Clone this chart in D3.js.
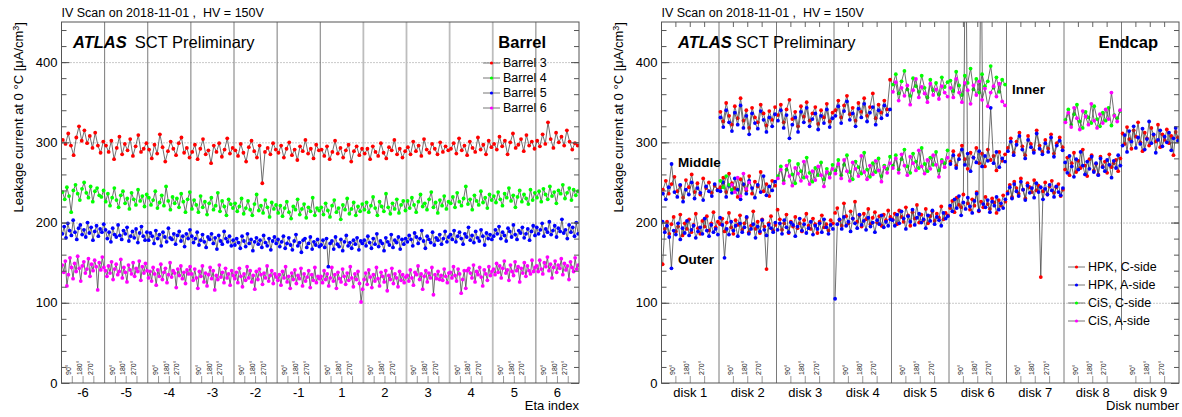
<!DOCTYPE html>
<html>
<head>
<meta charset="utf-8">
<script src="https://cdn.jsdelivr.net/npm/d3@7"></script>
<style>
  body { margin: 0; background: #fff; }
  svg { font-family: "Liberation Sans", Arial, Helvetica, sans-serif; }
  text { white-space: pre; }
</style>
</head>
<body>
<svg id="chart" width="1182" height="417"></svg>
<script>
// ---------------- categories and tick labels ----------------
const etaLabels = ["-6", "-5", "-4", "-3", "-2", "-1", "1", "2", "3", "4", "5", "6"];
const diskLabels = ["disk 1", "disk 2", "disk 3", "disk 4", "disk 5", "disk 6", "disk 7", "disk 8", "disk 9"];
const phiTicks = [90, 180, 270];
const phiTickLabels = ["90°", "180°", "270°"];
const yMajorTicks = [0, 100, 200, 300, 400];
const titleText = "IV Scan on 2018-11-01 ,  HV = 150V";

// ---------------- barrel: one row of modules per eta index ----------------
const barrelNames = ["Barrel 3", "Barrel 4", "Barrel 5", "Barrel 6"];
const barrel3 = [
  [303, 298, 311, 296, 284, 306, 320, 302, 315, 299, 308, 293, 312, 296, 287, 301],
  [296, 288, 302, 279, 293, 307, 285, 298, 290, 304, 283, 295, 309, 288, 292, 299],
  [291, 280, 297, 286, 310, 294, 276, 289, 301, 292, 284, 299, 306, 287, 293, 281],
  [288, 297, 279, 292, 304, 285, 290, 274, 296, 288, 299, 282, 291, 305, 286, 293],
  [290, 283, 298, 287, 276, 294, 302, 289, 281, 296, 249, 288, 293, 285, 299, 291],
  [287, 296, 281, 292, 300, 284, 291, 278, 295, 289, 303, 286, 292, 280, 297, 290],
  [291, 283, 295, 279, 288, 302, 286, 293, 281, 290, 297, 276, 289, 295, 284, 292],
  [286, 292, 279, 295, 288, 283, 299, 287, 280, 294, 290, 303, 285, 292, 281, 289],
  [294, 285, 301, 289, 296, 283, 304, 291, 287, 298, 292, 285, 300, 288, 295, 290],
  [292, 299, 286, 305, 290, 296, 284, 301, 293, 288, 306, 291, 297, 285, 302, 294],
  [298, 291, 307, 295, 302, 285, 300, 311, 293, 297, 304, 289, 309, 296, 301, 292],
  [302, 295, 310, 298, 325, 304, 293, 312, 300, 307, 296, 315, 301, 291, 299, 296]
];
const barrel4 = [
  [238, 229, 244, 233, 213, 240, 247, 236, 228, 242, 250, 237, 231, 245, 226, 239, 243, 234, 232, 240],
  [226, 236, 221, 231, 243, 228, 219, 234, 239, 224, 230, 217, 237, 229, 222, 241, 227, 233, 220, 235],
  [231, 222, 228, 239, 218, 225, 234, 221, 245, 227, 216, 232, 224, 230, 219, 236, 226, 213, 229, 238],
  [217, 228, 222, 213, 233, 219, 226, 210, 224, 231, 216, 221, 237, 214, 227, 220, 209, 229, 223, 218],
  [224, 214, 220, 230, 211, 218, 227, 216, 209, 223, 235, 215, 221, 212, 228, 219, 207, 225, 217, 222],
  [212, 221, 208, 218, 226, 213, 205, 220, 216, 229, 210, 217, 223, 206, 219, 214, 231, 209, 218, 215],
  [219, 210, 224, 215, 207, 221, 228, 213, 218, 204, 222, 216, 230, 211, 217, 225, 209, 220, 214, 223],
  [216, 225, 213, 221, 232, 218, 209, 226, 220, 214, 236, 219, 211, 224, 217, 229, 212, 222, 227, 215],
  [227, 218, 231, 222, 213, 226, 235, 220, 224, 216, 229, 238, 219, 225, 212, 228, 221, 233, 217, 226],
  [224, 232, 219, 237, 226, 221, 230, 245, 223, 229, 216, 234, 227, 222, 239, 225, 231, 218, 235, 228],
  [233, 225, 238, 229, 221, 236, 231, 243, 227, 234, 219, 232, 240, 226, 235, 230, 223, 241, 228, 237],
  [231, 239, 226, 242, 235, 229, 245, 233, 238, 224, 240, 236, 247, 230, 237, 243, 228, 241, 234, 239]
];
const barrel5 = [
  [186, 195, 181, 199, 190, 184, 203, 188, 179, 193, 197, 185, 191, 182, 200, 187, 194, 178, 189, 196, 183, 192, 188, 198],
  [191, 180, 188, 176, 193, 185, 182, 197, 184, 179, 190, 186, 194, 177, 183, 189, 181, 192, 175, 187, 195, 183, 178, 188],
  [178, 187, 183, 174, 190, 180, 185, 171, 188, 182, 176, 193, 181, 179, 186, 173, 184, 189, 177, 183, 170, 186, 180, 191],
  [183, 175, 180, 188, 172, 178, 185, 176, 169, 182, 179, 186, 174, 181, 167, 184, 177, 173, 189, 180, 176, 183, 171, 178],
  [172, 180, 175, 168, 183, 177, 170, 186, 174, 179, 165, 176, 181, 173, 178, 169, 184, 175, 171, 180, 166, 177, 182, 174],
  [179, 170, 176, 183, 168, 174, 181, 172, 166, 177, 185, 171, 175, 163, 178, 180, 169, 174, 182, 167, 176, 172, 179, 170],
  [172, 178, 169, 180, 145, 174, 177, 167, 182, 173, 170, 179, 165, 176, 184, 171, 175, 168, 178, 173, 181, 166, 177, 174],
  [178, 171, 183, 175, 168, 180, 173, 186, 170, 177, 174, 165, 181, 176, 172, 185, 169, 178, 175, 182, 167, 179, 173, 180],
  [176, 184, 179, 171, 187, 182, 174, 180, 190, 177, 168, 183, 179, 175, 188, 172, 181, 178, 185, 173, 180, 189, 176, 182],
  [185, 179, 190, 176, 183, 188, 180, 173, 186, 182, 194, 178, 184, 175, 189, 181, 177, 191, 183, 172, 187, 180, 185, 179],
  [183, 191, 186, 195, 180, 188, 184, 177, 193, 189, 182, 197, 185, 179, 190, 187, 194, 181, 186, 192, 178, 189, 196, 184],
  [194, 186, 191, 199, 183, 192, 188, 201, 185, 190, 196, 182, 193, 189, 204, 187, 191, 180, 197, 188, 194, 183, 200, 186]
];
const barrel6 = [
  [147, 138, 152, 121, 135, 156, 144, 130, 149, 139, 158, 143, 127, 146, 151, 137, 142, 155, 133, 148, 140, 153, 145, 116, 150, 141, 157, 144],
  [140, 133, 146, 137, 151, 129, 142, 148, 135, 139, 154, 131, 144, 138, 126, 147, 141, 136, 150, 133, 143, 139, 152, 128, 145, 137, 149, 140],
  [131, 139, 127, 144, 136, 122, 141, 133, 148, 129, 138, 143, 125, 135, 150, 132, 140, 137, 119, 142, 134, 146, 130, 138, 124, 141, 136, 145],
  [136, 128, 142, 131, 118, 139, 133, 146, 126, 137, 121, 135, 144, 130, 140, 116, 134, 129, 147, 132, 138, 125, 143, 131, 136, 122, 140, 134],
  [130, 138, 125, 143, 133, 120, 136, 128, 145, 131, 140, 126, 134, 117, 139, 129, 142, 135, 123, 137, 131, 146, 127, 134, 140, 124, 136, 132],
  [128, 135, 122, 139, 131, 145, 126, 133, 118, 137, 129, 141, 124, 134, 130, 143, 121, 136, 127, 132, 140, 119, 135, 128, 144, 125, 133, 130],
  [133, 125, 140, 129, 136, 121, 131, 144, 127, 135, 118, 138, 130, 126, 142, 133, 123, 137, 128, 145, 131, 120, 136, 129, 139, 124, 101, 117],
  [129, 137, 123, 141, 132, 119, 135, 127, 144, 130, 121, 138, 133, 126, 140, 115, 134, 129, 143, 124, 136, 131, 120, 139, 128, 135, 125, 132],
  [134, 127, 141, 131, 122, 138, 135, 146, 129, 136, 117, 133, 140, 126, 137, 131, 144, 110, 135, 130, 139, 129, 134, 128, 142, 133, 125, 137],
  [138, 131, 145, 134, 127, 142, 136, 112, 129, 140, 118, 140, 143, 137, 131, 147, 126, 139, 135, 144, 132, 121, 141, 136, 128, 145, 134, 139],
  [142, 135, 149, 138, 146, 131, 143, 152, 137, 141, 128, 147, 139, 134, 151, 140, 145, 126, 143, 137, 150, 133, 146, 140, 136, 153, 139, 144],
  [146, 139, 153, 142, 136, 150, 145, 157, 140, 148, 131, 144, 152, 138, 147, 143, 155, 135, 149, 141, 146, 129, 151, 144, 139, 156, 142, 147]
];

// ---------------- endcap: one entry per disk for each ring (null = ring absent) ----------------
const endcapNames = ["HPK, C-side", "HPK, A-side", "CiS, C-side", "CiS, A-side"];
const ringLabels = ["Inner", "Middle", "Outer"];

const hpkCOuter = [
  [148, 192, 201, 186, 198, 207, 189, 195, 210, 184, 199, 192, 204, 188, 197, 211, 193, 186, 202, 195, 208, 190, 199, 213, 194, 201],
  [198, 205, 189, 200, 212, 194, 186, 203, 197, 209, 191, 199, 206, 188, 196, 214, 192, 201, 187, 204, 195, 142, 199, 208, 190, 197],
  [216, 204, 191, 199, 210, 187, 201, 195, 207, 193, 199, 189, 203, 211, 196, 192, 205, 198, 187, 201, 209, 194, 198, 190, 203, 199],
  [212, 218, 203, 196, 224, 208, 199, 214, 205, 226, 201, 209, 195, 211, 204, 217, 198, 206, 213, 200, 208, 196, 210, 203, 215, 207],
  [204, 211, 198, 215, 207, 201, 219, 209, 196, 213, 205, 222, 200, 210, 203, 217, 199, 208, 214, 202, 211, 206, 220, 204, 212, 209],
  [218, 227, 213, 231, 222, 219, 235, 620, 224, 216, 229, 221, 238, 214, 226, 219, 232, 223, 217, 230, 225, 212, 228, 221, 234, 226],
  [238, 247, 232, 251, 243, 236, 255, 241, 230, 249, 244, 238, 253, 240, 246, 132, 239, 250, 235, 245, 252, 237, 244, 248, 233, 241],
  [266, 281, 259, 274, 287, 263, 277, 268, 291, 271, 258, 279, 284, 265, 273, 260, 282, 270, 276, 262, 285, 269, 274, 278, 264, 280],
  [311, 298, 319, 304, 292, 315, 307, 325, 300, 289, 312, 305, 296, 318, 309, 301, 322, 294, 310, 303, 316, 299, 308, 284, 313, 306]
];
const hpkAOuter = [
  [201, 188, 196, 182, 143, 190, 185, 199, 179, 193, 187, 202, 184, 191, 196, 181, 189, 194, 186, 205, 190, 183, 197, 188, 192, 185],
  [206, 197, 156, 192, 185, 201, 190, 196, 183, 199, 188, 194, 207, 186, 192, 198, 181, 195, 189, 203, 191, 184, 197, 193, 188, 200],
  [191, 199, 186, 203, 194, 188, 200, 197, 183, 195, 205, 190, 198, 187, 193, 201, 185, 196, 192, 199, 188, 204, 194, 186, 197, 192],
  [105, 198, 204, 192, 207, 196, 201, 189, 205, 199, 193, 210, 197, 202, 191, 206, 195, 200, 188, 203, 198, 209, 194, 201, 196, 204],
  [203, 196, 210, 199, 214, 205, 192, 208, 201, 216, 197, 206, 211, 200, 204, 193, 209, 202, 215, 198, 207, 203, 196, 212, 205, 208],
  [221, 214, 229, 218, 233, 209, 225, 217, 231, 220, 212, 227, 236, 215, 580, 223, 219, 228, 213, 226, 221, 232, 216, 224, 218, 229],
  [236, 244, 230, 248, 239, 233, 251, 241, 228, 246, 237, 243, 231, 249, 238, 244, 229, 242, 235, 247, 240, 232, 245, 238, 234, 243],
  [275, 262, 283, 270, 257, 279, 266, 288, 271, 260, 276, 267, 282, 263, 274, 259, 280, 269, 264, 278, 272, 256, 277, 268, 284, 271],
  [296, 309, 288, 314, 301, 320, 293, 306, 298, 317, 291, 304, 326, 299, 310, 287, 303, 315, 295, 307, 300, 312, 290, 305, 318, 302]
];
const hpkCMiddle = [
  [241, 252, 236, 248, 257, 239, 246, 231, 253, 244, 260, 238, 249, 235, 255, 243, 250, 237, 246, 241],
  [244, 256, 238, 261, 249, 243, 232, 254, 247, 240, 258, 236, 251, 245, 263, 239, 248, 233, 252, 246],
  null, null, null,
  [276, 289, 271, 284, 296, 279, 267, 287, 281, 293, 274, 286, 270, 291, 278, 283, 265, 288, 277, 285],
  [293, 305, 287, 301, 312, 295, 284, 308, 298, 290, 315, 296, 288, 303, 292, 310, 286, 299, 306, 294],
  null, null
];
const hpkAMiddle = [
  [236, 229, 244, 273, 238, 232, 247, 226, 241, 235, 250, 230, 243, 237, 228, 245, 239, 233, 248, 240],
  [239, 250, 232, 246, 237, 255, 241, 229, 248, 236, 252, 243, 231, 247, 238, 258, 234, 245, 240, 251],
  null, null, null,
  [273, 284, 268, 279, 291, 272, 286, 264, 281, 275, 289, 270, 283, 277, 343, 274, 288, 269, 280, 276],
  [289, 301, 284, 297, 308, 291, 280, 303, 294, 287, 311, 292, 285, 299, 288, 306, 282, 296, 302, 290],
  null, null
];
const cisCMiddle = [
  null,
  [252, 244, 258, 247, 241, null, null, null, null, null, null, null, null, null, null, null, null, null, null, null],
  [258, 270, 252, 266, 277, 260, 249, 273, 264, 256, 281, 262, 251, 268, 259, 275, 254, 267, 261, 272],
  [265, 278, 259, 272, 284, 263, 254, 276, 269, 261, 287, 266, 257, 274, 263, 280, 258, 271, 267, 282],
  [271, 284, 266, 279, 291, 270, 262, 286, 276, 268, 293, 273, 264, 281, 272, 288, 265, 278, 274, 290],
  null, null,
  [328, 341, 322, 335, 347, 326, 318, 338, 331, 324, 345, 329, 320, 337, 327, 343, 321, 334, 330, 339],
  null
];
const cisAMiddle = [
  null,
  [null, null, null, null, 247, 238, 256, 233, 261, 242, 250, null, null, null, null, null, null, null, null, null],
  [255, 266, 249, 271, 258, 246, 268, 261, 252, 276, 257, 248, 264, 253, 270, 259, 245, 263, 256, 267],
  [261, 273, 255, 278, 264, 252, 275, 267, 258, 283, 263, 254, 271, 260, 277, 265, 251, 269, 262, 274],
  [268, 280, 262, 285, 271, 259, 282, 274, 265, 290, 270, 261, 278, 267, 284, 272, 257, 276, 269, 281],
  null, null,
  [325, 337, 319, 343, 330, 316, 339, 332, 322, 348, 327, 318, 335, 324, 341, 329, 362, 333, 326, 340],
  null
];
const hpkCInner = [
  null,
  [338, 326, 349, 333, 322, 345, 330, 355, 327, 340, 318, 343, 331, 325, 347, 336, 321, 339, 328, 344],
  [334, 347, 325, 341, 353, 329, 338, 320, 345, 332, 350, 327, 336, 344, 323, 340, 331, 348, 326, 337],
  [340, 352, 331, 346, 358, 335, 343, 327, 349, 338, 355, 333, 344, 361, 330, 347, 337, 352, 341, 378],
  null, null, null, null, null
];
const hpkAInner = [
  null,
  [331, 319, 340, 325, 314, 337, 322, 346, 318, 333, 310, 336, 324, 317, 339, 328, 313, 331, 320, 335],
  [327, 340, 318, 334, 305, 322, 331, 313, 338, 325, 343, 320, 329, 336, 316, 333, 324, 341, 319, 330],
  [333, 345, 324, 339, 351, 328, 336, 320, 342, 331, 348, 326, 337, 344, 322, 340, 330, 346, 334, 341],
  null, null, null, null, null
];
const cisCInner = [
  null, null, null, null,
  [372, 385, 361, 376, 389, 366, 358, 380, 370, 363, 383, 368, 356, 378, 365, 374, 360, 381, 369, 375],
  [377, 364, 388, 371, 359, 383, 374, 392, 366, 379, 362, 385, 370, 376, 395, 368, 381, 363, 378, 372],
  null, null, null
];
const cisAInner = [
  null, null, null, null,
  [363, 375, 352, 368, 358, 371, 347, 365, 379, 356, 369, 361, 350, 373, 359, 366, 354, 370, 362, 357],
  [368, 356, 379, 362, 350, 374, 365, 348, 371, 359, 376, 353, 367, 345, 362, 370, 357, 373, 351, 346],
  null, null, null
];

// ---------------- drawing ----------------
const svg = d3.select("#chart");
svg.append("rect").attr("width", 1182).attr("height", 417).attr("fill", "#fff");

const LINE_COLOR = "#4a4a4a";
const MARKER_R = 1.9;

function makePanel(ox, cats, xTitle, opts) {
  const left = ox + 61.5, right = ox + 579, top = 22, bottom = 383;
  const g = svg.append("g");
  const x = d3.scaleBand(cats, [left, right]);
  const y = d3.scaleLinear([0, 450], [bottom, top]);
  const phi = d3.scaleLinear([0, 360], [0, x.bandwidth()]);

  const clipId = "clip" + ox;
  svg.append("clipPath").attr("id", clipId)
    .append("rect").attr("x", left).attr("y", top).attr("width", right - left).attr("height", bottom - top);

  // dotted grid at the labelled values
  g.selectAll(".grid").data(yMajorTicks.filter(v => v > 0)).join("line")
    .attr("x1", left).attr("x2", right)
    .attr("y1", d => y(d) + 0.5).attr("y2", d => y(d) + 0.5)
    .attr("stroke", "#777").attr("stroke-width", 0.8).attr("stroke-dasharray", "1,2");

  // separators between categories
  g.selectAll(".sep").data(cats.slice(1)).join("line")
    .attr("x1", d => x(d)).attr("x2", d => x(d))
    .attr("y1", top).attr("y2", d => y(opts.sepFloor(d)))
    .attr("stroke", d => opts.sepLight(d) ? "#bdbdbd" : "#7a7a7a")
    .attr("stroke-width", d => opts.sepLight(d) ? 1.8 : 1);

  // azimuth markers inside each category
  cats.forEach(c => {
    phiTicks.forEach((p, k) => {
      const px = x(c) + phi(p);
      g.append("line").attr("x1", px).attr("x2", px).attr("y1", bottom).attr("y2", bottom - 7)
        .attr("stroke", "#9a9a9a").attr("stroke-width", 1);
      g.append("text").attr("transform", `translate(${px - 0.8},${bottom - 8}) rotate(-90)`)
        .attr("font-size", 7).attr("fill", "#222").text(phiTickLabels[k]);
      if (opts.topTicks) {
        g.append("line").attr("x1", px).attr("x2", px).attr("y1", top).attr("y2", top + 5)
          .attr("stroke", "#666").attr("stroke-width", 1);
      }
    });
  });

  const plot = g.append("g").attr("clip-path", `url(#${clipId})`);

  // frame
  g.append("rect").attr("x", left).attr("y", top).attr("width", right - left).attr("height", bottom - top)
    .attr("fill", "none").attr("stroke", "#555").attr("stroke-width", 1);

  // y axis: minor ticks every 20, major every 100, on both sides
  const minor = d3.range(0, 451, 20);
  g.append("g").attr("transform", `translate(${left},0)`)
    .call(d3.axisLeft(y).tickValues(minor).tickSize(-5).tickFormat(""))
    .call(a => a.select(".domain").remove())
    .call(a => a.selectAll("line").attr("stroke", "#555"));
  g.append("g").attr("transform", `translate(${left},0)`)
    .call(d3.axisLeft(y).tickValues(yMajorTicks).tickSize(-8).tickPadding(4))
    .call(a => a.select(".domain").remove())
    .call(a => a.selectAll("line").attr("stroke", "#555"))
    .call(a => a.selectAll("text").attr("font-size", 13).attr("fill", "#000").attr("font-family", null));
  g.append("g").attr("transform", `translate(${right},0)`)
    .call(d3.axisRight(y).tickValues(minor).tickSize(-5).tickFormat(""))
    .call(a => a.select(".domain").remove())
    .call(a => a.selectAll("line").attr("stroke", "#555"));
  g.append("g").attr("transform", `translate(${right},0)`)
    .call(d3.axisRight(y).tickValues(yMajorTicks).tickSize(-8).tickFormat(""))
    .call(a => a.select(".domain").remove())
    .call(a => a.selectAll("line").attr("stroke", "#555"));

  // x category labels
  g.append("g").attr("transform", `translate(0,${bottom})`)
    .call(d3.axisBottom(x).tickSize(0).tickPadding(5))
    .call(a => a.select(".domain").remove())
    .call(a => a.selectAll("text").attr("font-size", 13).attr("fill", "#000").attr("font-family", null));

  // axis titles
  g.append("text").attr("x", right).attr("y", 410).attr("text-anchor", "end")
    .attr("font-size", 13).text(xTitle);
  const yt = g.append("text").attr("transform", `translate(${ox + 18},${top}) rotate(-90)`)
    .attr("text-anchor", "end").attr("dy", "0.35em").attr("font-size", 13);
  yt.append("tspan").text("Leakage current at 0 °C [μA/cm");
  yt.append("tspan").attr("dy", "-0.45em").attr("font-size", 9).text("3");
  yt.append("tspan").attr("dy", "0.45em").text("]");

  // title
  g.append("text").attr("x", left).attr("y", 16.5).attr("font-size", 12.5).text(titleText);

  return { g, plot, x, y, phi, left, right, top, bottom };
}

function drawSeries(plot, pts, color) {
  plot.append("path")
    .attr("d", d3.line().defined(d => d != null).x(d => d[0]).y(d => d[1])(pts))
    .attr("fill", "none").attr("stroke", LINE_COLOR).attr("stroke-width", 0.8);
  plot.append("g").selectAll("circle").data(pts.filter(d => d != null)).join("circle")
    .attr("cx", d => d[0]).attr("cy", d => d[1]).attr("r", MARKER_R).attr("fill", color);
}

function drawLegend(g, names, colors, x0, ys) {
  names.forEach((n, i) => {
    g.append("line").attr("x1", x0).attr("x2", x0 + 17).attr("y1", ys[i]).attr("y2", ys[i])
      .attr("stroke", "#777").attr("stroke-width", 1);
    g.append("circle").attr("cx", x0 + 8.5).attr("cy", ys[i]).attr("r", 1.6).attr("fill", colors[i]);
    g.append("text").attr("x", x0 + 20).attr("y", ys[i]).attr("dy", "0.35em")
      .attr("font-size", 12.5).text(n);
  });
}

function atlasLabel(g, x, gap) {
  const t = g.append("text").attr("x", x).attr("y", 48).attr("font-size", 16.5);
  t.append("tspan").attr("font-weight", "bold").attr("font-style", "italic").text("ATLAS");
  t.append("tspan").attr("dx", gap).text("SCT Preliminary");
}

const seriesColors = ["#ff0000", "#00ff00", "#0000ff", "#ff00ff"];

// ---- barrel panel ----
const lightEta = new Set(["2", "3", "4", "5"]);
const L = makePanel(0, etaLabels, "Eta index", {
  sepFloor: () => 0,
  sepLight: d => lightEta.has(d),
  topTicks: false
});
[barrel3, barrel4, barrel5, barrel6].forEach((rows, k) => {
  const pts = [];
  rows.forEach((vals, i) => vals.forEach((v, j) => {
    pts.push([L.x(etaLabels[i]) + L.phi((j + 0.5) * 360 / vals.length), L.y(v)]);
  }));
  drawSeries(L.plot, pts, seriesColors[k]);
});
atlasLabel(L.g, 73, 8);
L.g.append("text").attr("x", 546).attr("y", 48).attr("text-anchor", "end")
  .attr("font-size", 16.5).attr("font-weight", "bold").text("Barrel");
drawLegend(L.g, barrelNames, seriesColors, 483, [63, 78, 93, 108]);

// ---- endcap panel ----
const R = makePanel(600, diskLabels, "Disk number", {
  sepFloor: d => d === "disk 9" ? 66 : 0,
  sepLight: () => false,
  topTicks: true
});
const endcapColors = ["#ff0000", "#0000ff", "#00ff00", "#ff00ff"];
const endcapRings = [
  [hpkCOuter, hpkCMiddle, hpkCInner],
  [hpkAOuter, hpkAMiddle, hpkAInner],
  [cisCMiddle, cisCInner],
  [cisAMiddle, cisAInner]
];
endcapRings.forEach((rings, k) => {
  rings.forEach(ring => {
    ring.forEach((vals, d) => {
      if (!vals) return;
      const pts = vals.map((v, j) => v == null ? null :
        [R.x(diskLabels[d]) + R.phi((j + 0.5) * 360 / vals.length), R.y(v)]);
      drawSeries(R.plot, pts, endcapColors[k]);
    });
  });
});
atlasLabel(R.g, 678, 4);
R.g.append("text").attr("x", 1158).attr("y", 48).attr("text-anchor", "end")
  .attr("font-size", 16.5).attr("font-weight", "bold").text("Endcap");
[[ringLabels[0], 1012, 94], [ringLabels[1], 678, 167], [ringLabels[2], 678, 264]].forEach(([t, x, y]) => {
  R.g.append("text").attr("x", x).attr("y", y).attr("font-size", 13.5).attr("font-weight", "bold").text(t);
});
drawLegend(R.g, endcapNames, endcapColors, 1068, [267, 285, 303, 321]);
</script>
</body>
</html>
